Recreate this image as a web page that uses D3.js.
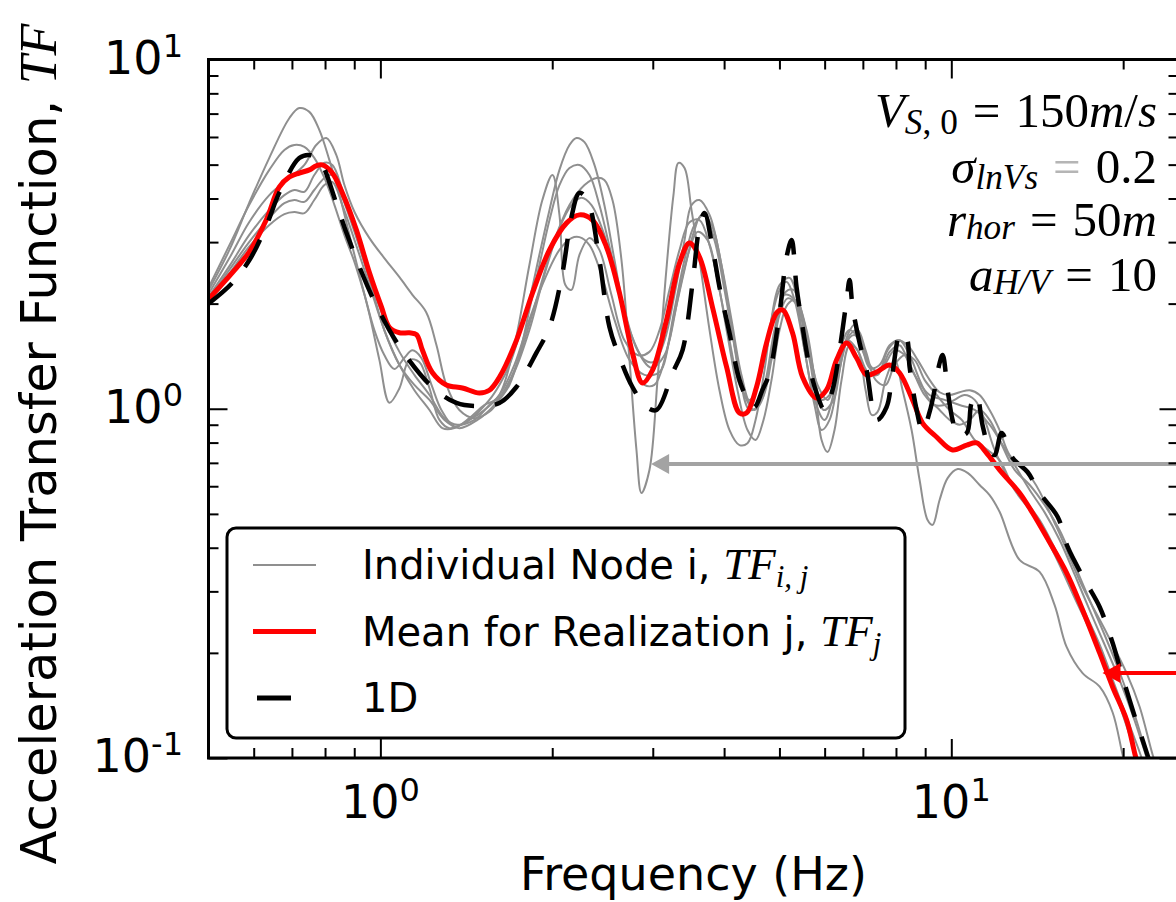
<!DOCTYPE html>
<html><head><meta charset="utf-8">
<script src="https://cdn.jsdelivr.net/npm/d3@7"></script>
<style>
body{margin:0;background:#fff;}
svg{display:block;}
</style></head><body>
<svg id="chart" width="1176" height="902"></svg>
<script>
// ---------------- DATA (frequency Hz, transfer function) ----------------
const meanTF = [[0.5,2.06],[0.55,2.45],[0.589,2.81],[0.631,3.47],[0.665,4.31],[0.693,4.61],[0.721,4.73],[0.751,4.83],[0.772,4.96],[0.791,4.99],[0.824,4.73],[0.858,4.15],[0.908,3.25],[0.957,2.45],[1.004,1.96],[1.037,1.71],[1.08,1.65],[1.124,1.65],[1.157,1.63],[1.185,1.47],[1.233,1.27],[1.305,1.17],[1.392,1.147],[1.491,1.11],[1.552,1.13],[1.616,1.23],[1.731,1.57],[1.847,2.145],[1.978,2.85],[2.118,3.40],[2.232,3.59],[2.352,3.47],[2.489,2.905],[2.623,2.145],[2.764,1.444],[2.878,1.185],[2.997,1.29],[3.171,1.795],[3.342,2.614],[3.478,2.983],[3.622,2.72],[3.816,1.956],[4.04,1.317],[4.256,0.972],[4.378,0.972],[4.559,1.154],[4.747,1.543],[4.942,1.88],[5.063,1.918],[5.272,1.648],[5.489,1.233],[5.807,1.073],[6.046,1.132],[6.295,1.379],[6.556,1.543],[6.826,1.397],[7.107,1.249],[7.4,1.274],[7.797,1.335],[8.119,1.266],[8.553,1.06],[8.906,0.91],[9.423,0.83],[10.05,0.762],[10.64,0.787],[11.08,0.798],[11.53,0.747],[12.15,0.668],[13.17,0.574],[13.88,0.503],[14.69,0.429],[15.92,0.339],[16.99,0.265],[18.19,0.1999],[19.17,0.1597],[20.28,0.1285],[20.95,0.1033],[21.3,0.093]];

const oneD = [[0.5,2.0],[0.55,2.29],[0.594,2.72],[0.634,3.40],[0.665,4.15],[0.721,5.22],[0.751,5.33],[0.782,5.15],[0.837,3.88],[0.872,3.19],[0.919,2.55],[0.968,2.09],[1.037,1.68],[1.111,1.41],[1.233,1.154],[1.359,1.039],[1.491,1.018],[1.616,1.039],[1.731,1.154],[1.876,1.445],[1.978,1.714],[2.084,2.447],[2.161,3.54],[2.232,4.15],[2.305,3.96],[2.419,2.67],[2.519,1.714],[2.623,1.407],[2.764,1.154],[2.925,1.012],[3.046,0.992],[3.249,1.266],[3.383,1.473],[3.522,2.29],[3.622,3.315],[3.696,3.636],[3.816,2.905],[3.926,2.232],[4.088,1.648],[4.256,1.209],[4.431,1.039],[4.522,1.01],[4.669,1.132],[4.804,1.266],[5.003,1.88],[5.146,2.72],[5.251,3.04],[5.357,2.232],[5.489,1.714],[5.646,1.317],[5.807,1.11],[5.998,0.992],[6.194,1.132],[6.373,1.473],[6.556,2.048],[6.635,2.337],[6.716,1.956],[6.909,1.543],[7.107,1.29],[7.4,0.929],[7.7,1.01],[7.888,1.266],[8.15,1.648],[8.35,1.595],[8.452,1.317],[8.695,0.992],[8.906,0.864],[9.162,0.979],[9.348,1.132],[9.539,1.352],[9.656,1.425],[9.852,1.132],[10.05,0.929],[10.26,0.841],[10.64,0.852],[10.85,1.039],[11.08,1.095],[11.34,0.899],[11.67,0.762],[11.91,0.737],[12.25,0.852],[12.81,0.723],[13.6,0.659],[14.28,0.574],[15.36,0.49],[15.99,0.402],[17.13,0.323],[18.19,0.2706],[19.17,0.2135],[19.72,0.1822],[20.78,0.1372],[21.63,0.1126],[22.26,0.0974]];

const node1 = [[0.5,2.18],[0.544,2.85],[0.589,3.88],[0.639,5.23],[0.693,6.80],[0.721,7.26],[0.751,7.08],[0.782,6.28],[0.814,5.16],[0.848,4.09],[0.883,3.14],[0.919,2.42],[0.957,1.86],[0.996,1.38],[1.037,1.04],[1.08,1.145],[1.124,1.38],[1.17,1.36],[1.219,1.145],[1.269,0.929],[1.321,0.88],[1.432,0.929],[1.552,1.06],[1.616,1.17],[1.683,1.335],[1.752,1.625],[1.824,2.05],[1.899,2.76],[1.978,3.71],[2.059,4.83],[2.144,5.69],[2.205,5.96],[2.278,5.80],[2.371,4.99],[2.468,3.83],[2.57,2.67],[2.676,1.86],[2.786,1.38],[2.901,1.17],[3.02,1.17],[3.146,1.38],[3.274,1.92],[3.41,2.67],[3.549,3.36],[3.695,3.59],[3.848,3.04],[4.006,2.19],[4.171,1.52],[4.342,1.095],[4.522,0.992],[4.708,1.17],[4.901,1.68],[5.103,2.12],[5.314,2.05],[5.533,1.47],[5.76,1.06],[5.997,0.929],[6.244,1.13],[6.502,1.52],[6.769,1.625],[7.048,1.425],[7.339,1.25],[7.641,1.335],[7.955,1.47],[8.283,1.425],[8.623,1.25],[8.978,1.095],[9.347,1.025],[9.732,1.025],[10.13,1.06],[10.55,1.095],[10.99,1.06],[11.44,0.929],[11.91,0.762],[12.65,0.625],[13.44,0.548],[14.28,0.48],[15.17,0.399],[16.12,0.323],[17.12,0.262],[18.19,0.211],[19.32,0.162],[20.53,0.124],[21.55,0.1],[22.26,0.084]];

const node2 = [[0.5,2.22],[0.544,2.94],[0.589,3.83],[0.639,4.83],[0.679,5.51],[0.707,5.69],[0.736,5.62],[0.766,5.23],[0.798,4.58],[0.831,3.83],[0.865,3.14],[0.901,2.63],[0.938,2.12],[0.976,1.68],[1.016,1.425],[1.058,1.30],[1.102,1.40],[1.138,1.47],[1.179,1.40],[1.229,1.17],[1.279,0.992],[1.348,0.89],[1.432,0.929],[1.521,0.992],[1.616,1.095],[1.717,1.52],[1.824,2.58],[1.922,3.96],[2.002,4.67],[2.059,3.59],[2.109,2.26],[2.161,2.19],[2.232,2.76],[2.324,3.08],[2.419,2.85],[2.539,2.12],[2.676,1.57],[2.82,1.425],[2.96,1.455],[3.083,1.68],[3.209,2.19],[3.342,2.85],[3.479,3.42],[3.622,3.47],[3.772,2.94],[3.926,2.19],[4.088,1.57],[4.256,1.17],[4.432,1.06],[4.614,1.21],[4.804,1.68],[5.002,2.26],[5.208,2.37],[5.423,1.92],[5.646,1.38],[5.878,1.06],[6.12,1.095],[6.373,1.47],[6.635,1.68],[6.908,1.57],[7.193,1.31],[7.489,1.335],[7.797,1.52],[8.118,1.57],[8.452,1.425],[8.8,1.21],[9.162,1.06],[9.539,0.992],[9.931,0.929],[10.34,0.90],[10.77,0.929],[11.21,0.992],[11.67,0.929],[12.15,0.814],[12.91,0.668],[13.72,0.605],[14.57,0.53],[15.48,0.449],[16.45,0.357],[17.47,0.283],[18.56,0.225],[19.72,0.176],[20.95,0.133],[22.08,0.1],[22.7,0.087]];

const node3 = [[0.5,2.13],[0.544,2.70],[0.589,3.42],[0.639,4.09],[0.693,4.58],[0.736,4.99],[0.772,5.69],[0.804,5.96],[0.837,5.33],[0.865,4.37],[0.901,3.66],[0.957,3.08],[1.016,2.70],[1.08,2.38],[1.138,2.12],[1.203,1.89],[1.254,1.52],[1.305,1.17],[1.375,0.992],[1.461,0.94],[1.552,0.98],[1.616,1.06],[1.683,1.17],[1.752,1.425],[1.824,1.92],[1.899,2.58],[1.978,3.47],[2.059,4.37],[2.144,4.89],[2.232,4.99],[2.324,4.67],[2.419,3.83],[2.539,2.76],[2.676,1.92],[2.82,1.47],[2.984,1.31],[3.146,1.425],[3.274,1.86],[3.41,2.50],[3.549,3.25],[3.652,3.59],[3.803,3.36],[3.958,2.58],[4.121,1.80],[4.29,1.25],[4.468,1.025],[4.651,1.06],[4.843,1.38],[5.002,1.86],[5.167,2.07],[5.357,1.99],[5.601,1.52],[5.831,1.17],[6.071,1.06],[6.321,1.29],[6.582,1.57],[6.853,1.47],[7.136,1.275],[7.429,1.25],[7.735,1.47],[8.053,1.57],[8.384,1.52],[8.729,1.38],[9.162,1.21],[9.539,1.115],[9.931,1.095],[10.34,1.115],[10.77,1.13],[11.21,1.095],[11.67,0.992],[12.15,0.869],[12.65,0.737],[13.89,0.625],[15.29,0.458],[16.98,0.309],[18.71,0.228],[20.28,0.175],[21.38,0.14],[22.53,0.102],[23.17,0.089]];

const node4 = [[0.5,2.09],[0.544,2.56],[0.589,3.14],[0.639,3.71],[0.679,4.09],[0.707,4.23],[0.736,4.18],[0.766,4.67],[0.798,5.06],[0.824,4.99],[0.858,4.23],[0.901,3.25],[0.957,2.34],[1.016,1.68],[1.08,1.335],[1.147,1.17],[1.219,1.06],[1.295,0.929],[1.375,0.88],[1.479,0.929],[1.584,1.025],[1.649,1.13],[1.717,1.29],[1.788,1.57],[1.899,2.19],[2.018,3.04],[2.144,3.83],[2.278,4.37],[2.39,4.58],[2.468,4.52],[2.55,3.96],[2.644,2.67],[2.731,1.38],[2.809,0.762],[2.866,0.574],[2.96,0.668],[3.058,1.21],[3.158,2.34],[3.261,4.09],[3.328,5.06],[3.41,4.89],[3.507,3.71],[3.622,2.67],[3.772,1.68],[3.926,1.13],[4.088,0.869],[4.256,0.787],[4.396,0.797],[4.541,0.929],[4.708,1.29],[4.843,1.80],[5.002,2.19],[5.146,2.31],[5.314,2.05],[5.533,1.47],[5.76,1.025],[5.926,0.869],[6.12,0.929],[6.373,1.29],[6.582,1.625],[6.769,1.74],[6.964,1.57],[7.193,1.335],[7.489,1.275],[7.797,1.455],[8.118,1.52],[8.452,1.335],[8.729,1.21],[9.162,1.095],[9.732,1.06],[10.34,1.025],[10.99,0.992],[11.67,0.90],[12.15,0.814],[12.91,0.69],[13.72,0.585],[14.57,0.505],[15.48,0.421],[16.45,0.335],[17.47,0.265],[18.56,0.211],[19.72,0.167],[20.95,0.128],[21.99,0.1],[22.7,0.084]];

const node5 = [[0.5,2.05],[0.544,2.50],[0.589,3.00],[0.639,3.52],[0.679,3.88],[0.707,3.96],[0.736,3.91],[0.766,4.23],[0.798,4.58],[0.824,4.67],[0.858,4.02],[0.901,3.21],[0.957,2.37],[1.016,1.80],[1.08,1.455],[1.147,1.25],[1.219,1.095],[1.295,0.94],[1.364,0.90],[1.461,0.929],[1.552,1.025],[1.616,1.095],[1.717,1.335],[1.824,1.80],[1.938,2.34],[2.059,2.85],[2.161,3.08],[2.232,3.10],[2.324,2.94],[2.439,2.42],[2.57,1.80],[2.731,1.38],[2.901,1.25],[3.083,1.275],[3.209,1.57],[3.342,2.19],[3.479,2.85],[3.593,3.21],[3.742,3.04],[3.895,2.34],[4.055,1.625],[4.222,1.13],[4.396,0.869],[4.541,0.814],[4.689,0.929],[4.843,1.21],[5.002,1.68],[5.167,1.99],[5.335,2.05],[5.578,1.68],[5.76,1.21],[5.926,0.814],[6.071,0.752],[6.244,0.869],[6.424,1.21],[6.635,1.52],[6.853,1.47],[7.078,1.13],[7.251,0.96],[7.429,0.98],[7.672,1.21],[7.955,1.38],[8.216,1.13],[8.52,0.869],[8.8,0.625],[9.088,0.48],[9.273,0.465],[9.539,0.548],[9.853,0.633],[10.26,0.672],[10.68,0.655],[11.21,0.605],[11.67,0.566],[12.15,0.507],[13.17,0.369],[14.28,0.341],[15.17,0.274],[15.92,0.208],[16.98,0.175],[18.19,0.16],[19.17,0.135],[19.96,0.102],[20.28,0.093]];

const node6 = [[0.5,2.02],[0.544,2.44],[0.589,2.91],[0.639,3.36],[0.679,3.61],[0.707,3.66],[0.736,3.63],[0.766,3.96],[0.798,4.37],[0.824,4.46],[0.858,3.83],[0.901,3.04],[0.957,2.26],[1.016,1.68],[1.08,1.335],[1.147,1.13],[1.219,0.992],[1.284,0.88],[1.348,0.88],[1.432,0.94],[1.521,1.025],[1.616,1.075],[1.717,1.275],[1.824,1.68],[1.938,2.42],[2.059,3.29],[2.161,3.83],[2.251,4.02],[2.343,3.83],[2.468,3.14],[2.602,2.26],[2.753,1.625],[2.901,1.38],[3.02,1.365],[3.146,1.57],[3.274,2.12],[3.41,3.04],[3.507,3.83],[3.622,3.96],[3.772,3.59],[3.926,2.76],[4.088,1.86],[4.256,1.25],[4.432,0.992],[4.614,1.025],[4.804,1.335],[4.962,1.80],[5.125,2.16],[5.292,2.19],[5.51,1.80],[5.737,1.29],[5.973,0.992],[6.219,1.06],[6.424,1.38],[6.635,1.625],[6.853,1.68],[7.078,1.47],[7.369,1.21],[7.672,1.17],[7.955,1.335],[8.283,1.425],[8.623,1.38],[8.978,1.21],[9.425,1.095],[9.931,0.992],[10.43,0.929],[10.99,0.814],[11.58,0.762],[12.15,0.713],[12.91,0.585],[13.72,0.513],[14.57,0.435],[15.48,0.357],[16.45,0.287],[17.47,0.233],[18.56,0.184],[19.56,0.147],[20.53,0.116],[21.21,0.0987],[21.8,0.087]];

const nodes = [node1, node2, node3, node4, node5, node6];

// axes / ticks
const xDomain = [0.5, 25];
const yDomain = [0.1, 10];
const xMajor = [1, 10];
const xMinor = [0.6, 0.7, 0.8, 0.9, 2, 3, 4, 5, 6, 7, 8, 9, 20];
const yMajor = [0.1, 1, 10];
const yMinor = [0.2, 0.3, 0.4, 0.5, 0.6, 0.7, 0.8, 0.9, 2, 3, 4, 5, 6, 7, 8, 9];
const xTickExp = ["0", "1"];
const yTickExp = ["-1", "0", "1"];

// legend labels
const legendItems = [
  {kind: "node", text: "Individual Node i, ", math: "TF", sub: "i, j"},
  {kind: "mean", text: "Mean for Realization j, ", math: "TF", sub: "j"},
  {kind: "oneD", text: "1D", math: "", sub: ""}
];

// annotation arrows: point at (freq, TF) from beyond the right edge
const arrows = [
  {from: 30, to: 2.98, tf: 0.695, color: "#a3a3a3"},
  {from: 30, to: 18.4, tf: 0.175, color: "#ff0000"}
];

// ---------------- DRAWING ----------------
const svg = d3.select("#chart");
const M = {left: 208.5, top: 59.5, right: 1178.5, bottom: 758};
const x = d3.scaleLog().domain(xDomain).range([M.left, M.right]);
const y = d3.scaleLog().domain(yDomain).range([M.bottom, M.top]);

svg.append("rect").attr("width", 1176).attr("height", 902).attr("fill", "#fff");

svg.append("defs").append("clipPath").attr("id", "clip")
  .append("rect").attr("x", M.left).attr("y", M.top)
  .attr("width", M.right - M.left).attr("height", M.bottom - M.top);

const plot = svg.append("g").attr("clip-path", "url(#clip)");
const line = d3.line().x(d => x(d[0])).y(d => y(d[1])).curve(d3.curveCatmullRom.alpha(0.5));

const GRAY = "#8f8f8f";
plot.selectAll("path.node").data(nodes).join("path")
  .attr("class", "node").attr("d", line)
  .attr("fill", "none").attr("stroke", GRAY).attr("stroke-width", 2);

plot.append("path").datum(meanTF).attr("d", line)
  .attr("fill", "none").attr("stroke", "#ff0000").attr("stroke-width", 5)
  .attr("stroke-linejoin", "round");

plot.append("path").datum(oneD).attr("d", line)
  .attr("fill", "none").attr("stroke", "#000").attr("stroke-width", 4.5)
  .attr("stroke-dasharray", "31,21");

// arrows
const arrowG = svg.append("g");
arrows.forEach(a => {
  const x0 = x(a.from), x1 = x(a.to), yy = y(a.tf);
  arrowG.append("line").attr("x1", x0).attr("x2", x1 + 14).attr("y1", yy).attr("y2", yy)
    .attr("stroke", a.color).attr("stroke-width", 4);
  arrowG.append("path")
    .attr("d", `M${x1},${yy} L${x1 + 18},${yy - 10} L${x1 + 18},${yy + 10} Z`)
    .attr("fill", a.color);
});

// ticks via d3 axes (inward, on all four sides)
function styleAxis(g) {
  g.select(".domain").remove();
  g.selectAll(".tick line").attr("stroke", "#000").attr("stroke-width", 2);
  g.selectAll(".tick text").remove();
}
const axes = svg.append("g");
[[xMajor, 19], [xMinor, 10]].forEach(([vals, len]) => {
  axes.append("g").attr("transform", `translate(0,${M.bottom})`)
    .call(d3.axisBottom(x).tickValues(vals).tickSize(-len).tickFormat("")).call(styleAxis);
  axes.append("g").attr("transform", `translate(0,${M.top})`)
    .call(d3.axisTop(x).tickValues(vals).tickSize(-len).tickFormat("")).call(styleAxis);
});
[[yMajor, 19], [yMinor, 10]].forEach(([vals, len]) => {
  axes.append("g").attr("transform", `translate(${M.left},0)`)
    .call(d3.axisLeft(y).tickValues(vals).tickSize(-len).tickFormat("")).call(styleAxis);
  axes.append("g").attr("transform", `translate(${M.right},0)`)
    .call(d3.axisRight(y).tickValues(vals).tickSize(-len).tickFormat("")).call(styleAxis);
});

// frame
svg.append("rect").attr("x", M.left).attr("y", M.top)
  .attr("width", M.right - M.left).attr("height", M.bottom - M.top)
  .attr("fill", "none").attr("stroke", "#000").attr("stroke-width", 3);

// tick labels
const SANS = "DejaVu Sans";
const SERIF = "Liberation Serif";
function powLabel(xp, yp, exp, anchor) {
  const t = svg.append("text").attr("x", xp).attr("y", yp).attr("text-anchor", anchor)
    .attr("font-family", SANS).attr("font-size", 46).attr("fill", "#000");
  t.append("tspan").text("10");
  t.append("tspan").attr("dy", -17).attr("font-size", 32).text(exp);
}
xMajor.forEach((v, i) => powLabel(x(v), 818, xTickExp[i], "middle"));
yMajor.forEach((v, i) => powLabel(183, y(v) + 14, yTickExp[i], "end"));

// axis titles
svg.append("text").attr("x", (M.left + M.right) / 2).attr("y", 890)
  .attr("text-anchor", "middle").attr("font-family", SANS).attr("font-size", 46)
  .text("Frequency (Hz)");

const yl = svg.append("text").attr("transform", "translate(56,444) rotate(-90)")
  .attr("text-anchor", "middle").attr("font-family", SANS).attr("font-size", 49.5);
yl.append("tspan").text("Acceleration Transfer Function, ");
yl.append("tspan").attr("font-family", SERIF).attr("font-style", "italic").attr("font-size", 52).text("TF");

// legend
const lg = svg.append("g");
lg.append("rect").attr("x", 227).attr("y", 528).attr("width", 678).attr("height", 210)
  .attr("rx", 9).attr("fill", "#fff").attr("stroke", "#000").attr("stroke-width", 3);
legendItems.forEach((it, i) => {
  const cy = 565 + i * 66.5;
  if (it.kind === "node") {
    lg.append("line").attr("x1", 253).attr("x2", 316).attr("y1", cy).attr("y2", cy)
      .attr("stroke", GRAY).attr("stroke-width", 2);
  } else if (it.kind === "mean") {
    lg.append("line").attr("x1", 253).attr("x2", 316).attr("y1", cy).attr("y2", cy)
      .attr("stroke", "#ff0000").attr("stroke-width", 5);
  } else {
    lg.append("line").attr("x1", 257).attr("x2", 291).attr("y1", cy).attr("y2", cy)
      .attr("stroke", "#000").attr("stroke-width", 5);
  }
  const t = lg.append("text").attr("x", 362).attr("y", cy + 14)
    .attr("font-family", SANS).attr("font-size", 40);
  t.append("tspan").text(it.text);
  if (it.math) {
    t.append("tspan").attr("font-family", SERIF).attr("font-style", "italic").attr("font-size", 45).text(it.math);
    t.append("tspan").attr("font-family", SERIF).attr("font-style", "italic").attr("font-size", 31)
      .attr("dy", 8).text(it.sub);
  }
});

// annotation block (right aligned)
function mathLine(xp, yp, segs, size, shift) {
  const t = svg.append("text").attr("x", xp).attr("y", yp).attr("text-anchor", "end")
    .attr("font-family", SERIF).attr("font-size", size).attr("fill", "#000");
  let inSub = false;
  segs.forEach(s => {
    const ts = t.append("tspan").text(s.t);
    if (s.it) ts.attr("font-style", "italic");
    if (s.sub && !inSub) { ts.attr("dy", shift); inSub = true; }
    else if (!s.sub && inSub) { ts.attr("dy", -shift); inSub = false; }
    if (s.sub) ts.attr("font-size", size * 0.72);
    if (s.dx) ts.attr("dx", s.dx);
    if (s.fill) ts.attr("fill", s.fill);
  });
}
const AX = 1157, AS = 49, GAP = 15;
mathLine(AX, 127, [
  {t: "V", it: true}, {t: "S", it: true, sub: true}, {t: ", 0", sub: true},
  {t: "=", dx: GAP}, {t: "150", dx: GAP}, {t: "m", it: true}, {t: "/"}, {t: "s", it: true}
], AS, 7);
mathLine(AX, 183, [
  {t: "σ", it: true}, {t: "lnVs", it: true, sub: true},
  {t: "=", dx: GAP, fill: "#b5b5b5"}, {t: "0.2", dx: GAP}
], AS, 6);
mathLine(AX, 236, [
  {t: "r", it: true}, {t: "hor", it: true, sub: true},
  {t: "=", dx: GAP}, {t: "50", dx: GAP}, {t: "m", it: true}
], AS, 3);
mathLine(AX, 291, [
  {t: "a", it: true}, {t: "H/V", it: true, sub: true},
  {t: "=", dx: GAP}, {t: "10", dx: GAP}
], AS, 3);
</script>
</body></html>
